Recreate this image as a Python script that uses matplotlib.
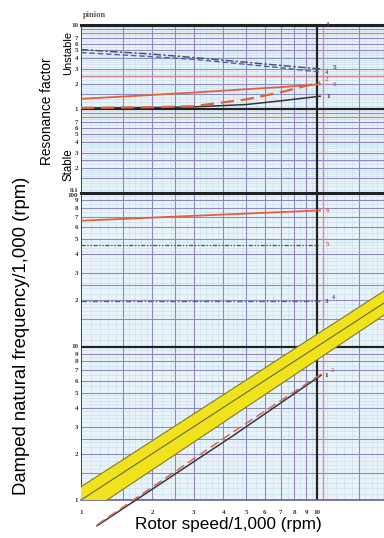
import numpy as np
import matplotlib.pyplot as plt

# ── values ────────────────────────────────────────────────────────────────────
speed_top = [1, 2, 3, 5, 7, 10.3]
res_1 = [1.03, 1.04, 1.06, 1.13, 1.25, 1.42]
res_2 = [1.03, 1.05, 1.08, 1.30, 1.58, 2.08]
res_4 = [4.7, 4.2, 3.9, 3.4, 3.1, 2.75]
res_5 = [5.1, 4.5, 4.1, 3.6, 3.3, 3.0]
res_6 = [1.32, 1.47, 1.57, 1.72, 1.82, 1.97]

speed_flat = [1, 3, 10.3]
freq_4 = [19.7, 19.7, 19.7]
freq_5 = [46, 46, 46]
freq_6 = [66, 71, 77]

speed_diag = [1.17, 4.4, 10.4]
freq_1 = [0.68, 2.62, 6.5]
freq_2 = [0.69, 2.77, 6.62]

band_speed = [1, 19.2]
band_low = [0.77, 16.0]
band_mid = [1, 19.2]
band_high = [1.22, 23.0]

x_ticks = [1, 2, 3, 4, 5, 6, 7, 8, 9, 10]
res_ticks = [0.1, 0.2, 0.3, 0.4, 0.5, 0.6, 0.7, 1, 2, 3, 4, 5, 6, 7, 10]
res_labels = ["0.1", "2", "3", "4", "5", "6", "7", "1", "2", "3", "4", "5", "6", "7", "10"]
freq_ticks = [1, 2, 3, 4, 5, 6, 7, 8, 9, 10, 20, 30, 40, 50, 60, 70, 80, 90, 100]
freq_labels = ["1", "2", "3", "4", "5", "6", "7", "8", "9", "10",
               "2", "3", "4", "5", "6", "7", "8", "9", "100"]

# ── colours ───────────────────────────────────────────────────────────────────
PAPER  = '#eaf4f8'
FINE   = '#c8e2ee'
PURPLE = '#9088c0'
BLACK  = '#222222'
PINK   = '#d88a9a'
ORANGE = '#e2613a'
BLUE   = '#4a5fb0'
GREY   = '#555566'
SERIF  = ['Liberation Serif', 'DejaVu Serif']

fine_steps = np.concatenate([np.arange(1, 2, 0.1), np.arange(2, 5, 0.2), np.arange(5, 10, 0.5)])
major_steps = [1.5, 2, 2.5, 3, 4, 5, 6, 7, 8, 9]

fig = plt.figure(figsize=(3.84, 5.38), dpi=100)
ax_r = fig.add_axes([81 / 384, 345 / 538, 303 / 384, 168 / 538])
ax_f = fig.add_axes([81 / 384, 38 / 538, 303 / 384, 307 / 538])


def graph_paper(ax, ydecades):
    ax.set_facecolor(PAPER)
    for d in [1, 10]:
        for f in fine_steps:
            ax.axvline(f * d, color=FINE, lw=0.5, zorder=0.5)
        for m in major_steps:
            ax.axvline(m * d, color=PURPLE, lw=0.8, zorder=0.6)
    for d in ydecades:
        for f in fine_steps:
            ax.axhline(f * d, color=FINE, lw=0.5, zorder=0.5)
        for m in major_steps:
            ax.axhline(m * d, color=PURPLE, lw=0.8, zorder=0.6)
    ax.axvline(10, color=BLACK, lw=1.6, zorder=0.8)
    ax.axvline(10.6, color=PINK, lw=1.0, zorder=0.7)
    ax.axvline(1, color='#444444', lw=1.4, zorder=0.8)
    for s in ax.spines.values():
        s.set_visible(False)
    ax.tick_params(length=0, labelsize=5, pad=2, colors='#333333')


for ax in (ax_r, ax_f):
    ax.set_xscale('log')
    ax.set_yscale('log')
    ax.set_xlim(1, 19.2)
    ax.minorticks_off()

ax_r.set_ylim(0.1, 10)
ax_f.set_ylim(1, 100)
graph_paper(ax_r, [0.1, 1])
graph_paper(ax_f, [1, 10])

ax_r.axhline(10, color=BLACK, lw=2.2, zorder=0.8, clip_on=False)
ax_r.axhline(1, color=BLACK, lw=1.6, zorder=0.8)
ax_r.axhline(2.5, color=PINK, lw=1.0, zorder=0.7)
ax_f.axhline(100, color=BLACK, lw=2.2, zorder=0.8, clip_on=False)
ax_f.axhline(10, color=BLACK, lw=1.6, zorder=0.8)
ax_f.axhline(1, color='#6a5f9a', lw=1.2, zorder=0.8, clip_on=False)

# ── tick labels ───────────────────────────────────────────────────────────────
ax_r.set_xticks([])
ax_r.set_yticks(res_ticks, res_labels)
ax_f.set_yticks(freq_ticks, freq_labels)
ax_f.set_xticks(x_ticks, [str(t) for t in x_ticks])
ax_f.tick_params(axis='x', pad=7)
for ax in (ax_r, ax_f):
    for lab in ax.get_xticklabels() + ax.get_yticklabels():
        lab.set_family(SERIF)
        lab.set_fontweight('bold')
# "0.1" and "100" share the panel seam: nudge them apart
ax_r.get_yticklabels()[0].set_va('bottom')
ax_f.get_yticklabels()[-1].set_va('top')

# ── resonance factor curves ──────────────────────────────────────────────────
ax_r.plot(speed_top, res_5, color=GREY, lw=1.1, dashes=(5, 1.5, 1.5, 1.5), zorder=3)
ax_r.plot(speed_top, res_4, color=BLUE, lw=1.0, dashes=(4, 2), zorder=3)
ax_r.plot(speed_top, res_6, color=ORANGE, lw=1.3, zorder=3)
ax_r.plot(speed_top, res_1, color='#333333', lw=1.1, zorder=3)
ax_r.plot(speed_top, res_2, color=ORANGE, lw=1.6, dashes=(6, 3), zorder=4)

lab_kw = dict(fontsize=5, family=SERIF, fontweight='bold', ha='left', va='center',
              clip_on=False, zorder=6)
ax_r.text(10.9, 10, "3", color='#555555', **lab_kw)
ax_r.text(11.7, 3.15, "5", color='#444444', **lab_kw)
ax_r.text(10.8, 2.75, "4", color=BLUE, **lab_kw)
ax_r.text(10.8, 2.22, "2", color=ORANGE, **lab_kw)
ax_r.text(11.6, 1.95, "6", color=ORANGE, **lab_kw)
ax_r.text(10.9, 1.42, "1", color='#333333', **lab_kw)

# ── damped natural frequency curves ──────────────────────────────────────────
ax_f.fill_between(band_speed, band_low, band_high, color='#f1e21e', edgecolor='none', zorder=2)
ax_f.plot(band_speed, band_low, color='#7d7a30', lw=0.8, zorder=2.5)
ax_f.plot(band_speed, band_high, color='#7d7a30', lw=0.8, zorder=2.5)
ax_f.plot(band_speed, band_mid, color='#6a6a3a', lw=0.8, zorder=2.5)

ax_f.plot(speed_flat, freq_6, color=ORANGE, lw=1.3, zorder=3)
ax_f.plot(speed_flat, freq_5, color=GREY, lw=1.0, dashes=(3, 1.2, 1, 1.2, 1, 1.2), zorder=3)
ax_f.plot(speed_flat, freq_4, color=BLUE, lw=1.0, dashes=(4, 1.5, 1, 1.5), zorder=3)
ax_f.plot(speed_diag, freq_1, color='#3a3440', lw=1.1, zorder=3, clip_on=False)
ax_f.plot(speed_diag, freq_2, color='#d86a50', lw=1.1, dashes=(6, 3), zorder=3, clip_on=False)

ax_f.text(10.9, 77, "6", color=ORANGE, **lab_kw)
ax_f.text(10.9, 46, "5", color='#b86a40', **lab_kw)
ax_f.text(10.8, 19.7, "3", color='#3a3a60', **lab_kw)
ax_f.text(11.6, 21.0, "4", color=BLUE, fontsize=4.5, family=SERIF, fontweight='bold',
          ha='left', va='center', clip_on=False, zorder=6)
ax_f.text(10.7, 6.5, "1", color='#333333', **lab_kw)
ax_f.text(11.4, 6.95, "2", color=ORANGE, fontsize=4.5, family=SERIF, fontweight='bold',
          ha='left', va='center', clip_on=False, zorder=6)

# ── axis texts ────────────────────────────────────────────────────────────────
fig.text(83 / 384, 1 - 15 / 538, "pinion", fontsize=6, family=SERIF, fontweight='bold',
         color='#555555', ha='left', va='center')
fig.text(228 / 384, 1 - 525 / 538, "Rotor speed/1,000 (rpm)", fontsize=12.3,
         family='Liberation Sans', ha='center', va='center')
fig.text(22 / 384, 1 - 336 / 538, "Damped natural frequency/1,000 (rpm)", fontsize=13.3,
         family='Liberation Sans', rotation=90, ha='center', va='center')
fig.text(47 / 384, 1 - 111 / 538, "Resonance factor", fontsize=9.8,
         family='Liberation Sans', rotation=90, ha='center', va='center')
fig.text(68 / 384, 1 - 53 / 538, "Unstable", fontsize=8,
         family='Liberation Sans', rotation=90, ha='center', va='center')
fig.text(68 / 384, 1 - 165 / 538, "Stable", fontsize=8.3,
         family='Liberation Sans', rotation=90, ha='center', va='center')

fig.savefig("out.png", dpi=100)
